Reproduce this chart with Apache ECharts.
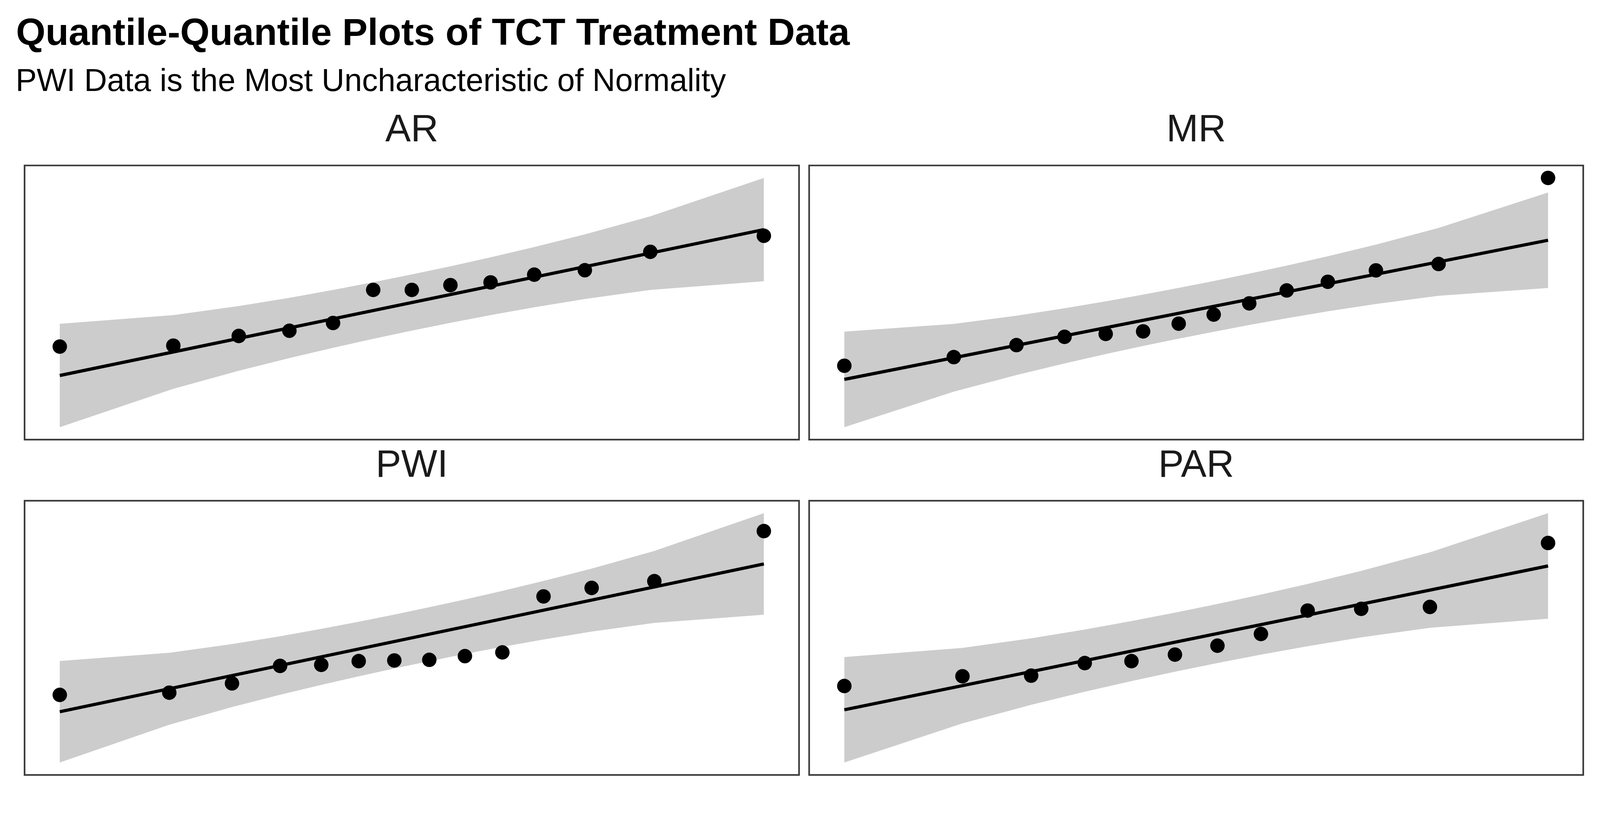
<!DOCTYPE html>
<html><head><meta charset="utf-8">
<script src="https://cdn.jsdelivr.net/npm/echarts/dist/echarts.min.js"></script>
<style>html,body{margin:0;padding:0;background:#fff;overflow:hidden}#c{width:100vw;height:100vh}</style>
</head><body><div id="c"></div>
<script>
// ---- Data (theoretical normal quantiles vs. sample values, relative units) ----
const panelNames = ['AR', 'MR', 'PWI', 'PAR'];

const arTheo   = [-1.7688, -1.1983, -0.8694, -0.6151, -0.3957, -0.1940, 0, 0.1940, 0.3957, 0.6151, 0.8694, 1.1983, 1.7688];
const arSample = [33.86, 34.21, 37.76, 39.67, 42.50, 54.63, 54.63, 56.39, 57.39, 60.22, 61.85, 68.58, 74.46];
const arBandLow  = [4.33, 18.40, 25.01, 29.67, 33.42, 36.70, 39.70, 42.56, 45.38, 48.26, 51.30, 54.62, 57.80];
const arBandHigh = [42.20, 45.38, 48.71, 51.74, 54.62, 57.44, 60.30, 63.30, 66.58, 70.34, 74.99, 81.60, 95.67];
const arLine = [23.27, 76.73];

const mrTheo   = [-1.8027, -1.2419, -0.9208, -0.6745, -0.4637, -0.2719, -0.0896, 0.0896, 0.2719, 0.4637, 0.6745, 0.9208, 1.2419, 1.8027];
const mrSample = [26.78, 29.96, 34.36, 37.40, 38.47, 39.39, 42.22, 45.56, 49.67, 54.42, 57.60, 61.78, 64.13, 95.72];
const mrBandLow  = [4.24, 17.27, 23.38, 27.64, 31.07, 34.03, 36.73, 39.26, 41.74, 44.21, 46.75, 49.47, 52.46, 55.32];
const mrBandHigh = [39.30, 42.16, 45.15, 47.87, 50.41, 52.89, 55.36, 57.89, 60.59, 63.55, 66.98, 71.24, 77.35, 90.38];
const mrLine = [21.77, 72.85];

const pwiTheo   = [-1.8027, -1.2419, -0.9208, -0.6745, -0.4637, -0.2719, -0.0896, 0.0896, 0.2719, 0.4637, 0.6745, 0.9208, 1.2419, 1.8027];
const pwiSample = [29.22, 30.03, 33.44, 39.83, 40.22, 41.58, 41.82, 42.06, 43.42, 44.78, 65.26, 68.38, 70.85, 89.18];
const pwiBandLow  = [4.49, 18.29, 24.76, 29.27, 32.90, 36.04, 38.89, 41.58, 44.20, 46.81, 49.51, 52.39, 55.56, 58.58];
const pwiBandHigh = [41.62, 44.64, 47.81, 50.69, 53.39, 56.00, 58.62, 61.31, 64.16, 67.30, 70.93, 75.45, 81.91, 95.71];
const pwiLine = [23.05, 77.15];

const parTheo   = [-1.7317, -1.1503, -0.8122, -0.5485, -0.3186, -0.1046, 0.1046, 0.3186, 0.5485, 0.8122, 1.1503, 1.7317];
const parSample = [32.42, 36.00, 36.24, 40.86, 41.58, 43.97, 47.25, 51.56, 60.17, 60.81, 61.51, 85.04];
const parBandLow  = [4.29, 18.68, 25.49, 30.31, 34.24, 37.69, 40.88, 43.97, 47.07, 50.31, 53.83, 57.20];
const parBandHigh = [43.08, 46.45, 49.97, 53.21, 56.31, 59.40, 62.59, 66.04, 69.97, 74.79, 81.60, 95.99];
const parLine = [23.68, 76.60];

const titleText = 'Quantile-Quantile Plots of TCT Treatment Data';
const subtitleText = 'PWI Data is the Most Uncharacteristic of Normality';

// ---- Layout (designed for 4200x2100, scaled to the real viewport) ----
const el = document.getElementById('c');
const chart = echarts.init(el, null, {renderer: 'canvas'});
const S = Math.min(chart.getWidth() / 4200, chart.getHeight() / 2100);
const FONT = "'Liberation Sans', Arial, Helvetica, sans-serif";

const panels = [
  {name: panelNames[0], theo: arTheo,  sample: arSample,  low: arBandLow,  high: arBandHigh,  line: arLine,  left: 64.5, top: 434.5, w: 2033, h: 720},
  {name: panelNames[1], theo: mrTheo,  sample: mrSample,  low: mrBandLow,  high: mrBandHigh,  line: mrLine,  left: 2124, top: 434.5, w: 2032, h: 720},
  {name: panelNames[2], theo: pwiTheo, sample: pwiSample, low: pwiBandLow, high: pwiBandHigh, line: pwiLine, left: 64.5, top: 1315, w: 2033, h: 720},
  {name: panelNames[3], theo: parTheo, sample: parSample, low: parBandLow, high: parBandHigh, line: parLine, left: 2124, top: 1315, w: 2032, h: 720}
];

const grids = [], xAxes = [], yAxes = [], series = [], graphics = [];

panels.forEach((p, idx) => {
  grids.push({left: p.left * S, top: p.top * S, width: p.w * S, height: p.h * S, show: true,
              borderColor: '#3a3a3a', borderWidth: 4.3 * S, backgroundColor: 'transparent'});
  const xmin = Math.min(...p.theo), xmax = Math.max(...p.theo), xr = xmax - xmin;
  const all = p.sample.concat(p.low, p.high);
  const ymin = Math.min(...all), ymax = Math.max(...all), yr = ymax - ymin;
  xAxes.push({gridIndex: idx, type: 'value', min: xmin - 0.05 * xr, max: xmax + 0.05 * xr, show: false});
  yAxes.push({gridIndex: idx, type: 'value', min: ymin - 0.05 * yr, max: ymax + 0.05 * yr, show: false});

  const theo = p.theo, low = p.low, high = p.high;
  series.push({
    type: 'custom', xAxisIndex: idx, yAxisIndex: idx, z: 1, silent: true,
    data: theo.map((t, i) => [t, low[i], high[i]]),
    encode: {x: 0, y: [1, 2]},
    renderItem: function (params, api) {
      if (params.dataIndex !== 0) return null;
      const pts = [];
      for (let i = 0; i < theo.length; i++) pts.push(api.coord([theo[i], high[i]]));
      for (let i = theo.length - 1; i >= 0; i--) pts.push(api.coord([theo[i], low[i]]));
      return {type: 'polygon', shape: {points: pts}, style: {fill: '#cccccc', stroke: null}};
    }
  });
  series.push({
    type: 'line', xAxisIndex: idx, yAxisIndex: idx, z: 2, silent: true,
    data: [[xmin, p.line[0]], [xmax, p.line[1]]],
    showSymbol: false, symbol: 'none',
    lineStyle: {color: '#000000', width: 8.5 * S, opacity: 1}
  });
  series.push({
    type: 'scatter', xAxisIndex: idx, yAxisIndex: idx, z: 3, silent: true,
    data: theo.map((t, i) => [t, p.sample[i]]),
    symbol: 'circle', symbolSize: 38 * S,
    itemStyle: {color: '#000000', opacity: 1}
  });
  graphics.push({
    type: 'text', x: (p.left + p.w / 2) * S, y: (p.top - 91) * S,
    style: {text: p.name, font: Math.round(100 * S) + 'px ' + FONT, fill: '#1a1a1a', textAlign: 'center', textVerticalAlign: 'middle'}
  });
});

graphics.push({type: 'text', x: 42 * S, y: 90 * S,
  style: {text: titleText, font: 'bold ' + Math.round(99 * S) + 'px ' + FONT, fill: '#000000', textAlign: 'left', textVerticalAlign: 'middle'}});
graphics.push({type: 'text', x: 41 * S, y: 216 * S,
  style: {text: subtitleText, font: Math.round(83 * S) + 'px ' + FONT, fill: '#000000', textAlign: 'left', textVerticalAlign: 'middle'}});

chart.setOption({
  animation: false,
  backgroundColor: '#ffffff',
  grid: grids, xAxis: xAxes, yAxis: yAxes, series: series,
  graphic: graphics
});
</script></body></html>
